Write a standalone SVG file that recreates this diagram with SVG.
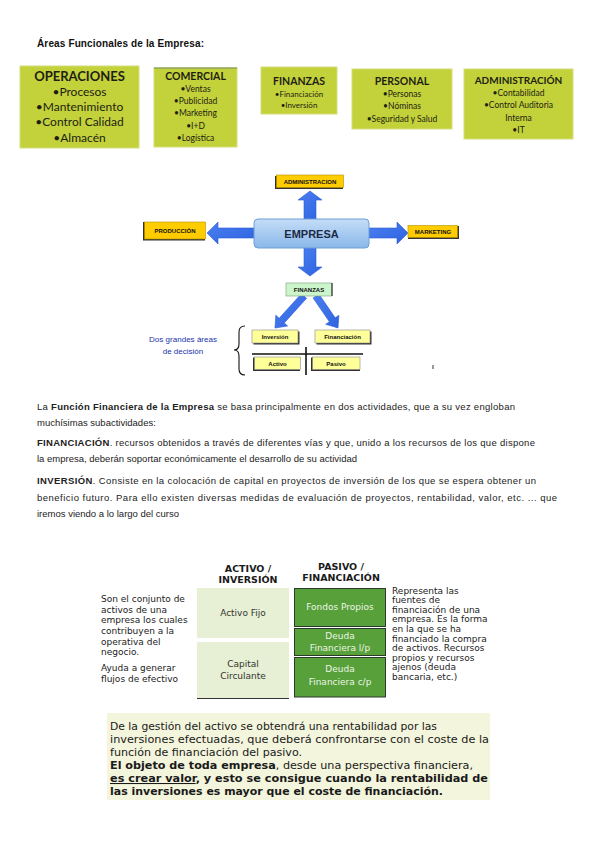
<svg xmlns="http://www.w3.org/2000/svg" width="599" height="848" viewBox="0 0 599 848">
<defs>
<style>
.bg{fill:#ffffff}
.area{fill:#c3d13b;stroke:#d4de7a;stroke-width:1}
.at{font-family:Lato,"Open Sans",sans-serif;font-weight:bold;fill:#1e1e14;text-anchor:middle}
.ai{font-family:Lato,"Open Sans",sans-serif;fill:#1e1e14;text-anchor:middle}
.p{font-family:"Liberation Sans",Arial,sans-serif;font-size:9.5px;fill:#222}
.b{font-weight:bold}
.lab{font-family:"Liberation Sans",Arial,sans-serif;font-weight:bold;font-size:6px;fill:#111;text-anchor:middle}
.ylab{fill:#ffcc00;stroke:#b38f00;stroke-width:0.6}
.yl2{fill:#ffff99;stroke:#888;stroke-width:0.6}
.shadow{fill:#333}
.arrow{fill:url(#ag);stroke:#2a5ad8;stroke-width:0.6}
.v{font-family:"DejaVu Sans",Verdana,sans-serif;font-size:9px;fill:#222}
.vh{font-family:"DejaVu Sans",Verdana,sans-serif;font-size:9.5px;font-weight:bold;fill:#1a1a1a;text-anchor:middle}
.cl{fill:#e7f0d4}
.cd{fill:#57a03a;stroke:#2c3a2c;stroke-width:1}
.wt{font-family:"DejaVu Sans",Verdana,sans-serif;font-size:9px;fill:#eef5e6;text-anchor:middle}
.dt{font-family:"DejaVu Sans",Verdana,sans-serif;font-size:9px;fill:#333;text-anchor:middle}
.bx{font-family:"DejaVu Sans",Verdana,sans-serif;font-size:10.5px;fill:#1a1a1a}
</style>
<linearGradient id="eg" x1="0" y1="0" x2="0" y2="1">
<stop offset="0" stop-color="#c4ddf7"/>
<stop offset="1" stop-color="#8ab8ea"/>
</linearGradient>
<linearGradient id="ag" x1="0" y1="0" x2="1" y2="1">
<stop offset="0" stop-color="#4b7ff0"/>
<stop offset="1" stop-color="#2f63e0"/>
</linearGradient>
</defs>
<rect class="bg" x="0" y="0" width="599" height="848"/>

<text x="37" y="47" font-family="Liberation Sans,Arial,sans-serif" font-size="10px" font-weight="bold" fill="#111" textLength="167" lengthAdjust="spacing">Áreas Funcionales de la Empresa:</text>

<g id="operaciones">
<rect class="area" x="20" y="66" width="119" height="82"/>
<text class="at" x="79.5" y="81" font-size="13px">OPERACIONES</text>
<text class="ai" x="79.5" y="96" font-size="12px">•Procesos</text>
<text class="ai" x="79.5" y="111" font-size="12px">•Mantenimiento</text>
<text class="ai" x="79.5" y="126" font-size="12px">•Control Calidad</text>
<text class="ai" x="79.5" y="142" font-size="12px">•Almacén</text>
</g>
<g id="comercial">
<rect class="area" x="154" y="68" width="83" height="79"/>
<line x1="154" y1="68" x2="237" y2="68" stroke="#6a8a4a" stroke-width="1"/>
<text class="at" x="195.5" y="80" font-size="10.5px">COMERCIAL</text>
<text class="ai" x="195.5" y="92" font-size="8.5px">•Ventas</text>
<text class="ai" x="195.5" y="104" font-size="8.5px">•Publicidad</text>
<text class="ai" x="195.5" y="116" font-size="8.5px">•Marketing</text>
<text class="ai" x="195.5" y="129" font-size="8.5px">•I+D</text>
<text class="ai" x="195.5" y="141" font-size="8.5px">•Logística</text>
</g>
<g id="finanzas-area">
<rect class="area" x="261" y="67" width="76" height="47"/>
<text class="at" x="299" y="85" font-size="10.5px">FINANZAS</text>
<text class="ai" x="299" y="97" font-size="8px">•Financiación</text>
<text class="ai" x="299" y="108" font-size="8px">•Inversión</text>
</g>
<g id="personal">
<rect class="area" x="352" y="69" width="100" height="60"/>
<text class="at" x="402" y="85" font-size="10.5px">PERSONAL</text>
<text class="ai" x="402" y="97" font-size="8.5px">•Personas</text>
<text class="ai" x="402" y="109" font-size="8.5px">•Nóminas</text>
<text class="ai" x="402" y="122" font-size="8.5px">•Seguridad y Salud</text>
</g>
<g id="administracion-area">
<rect class="area" x="464" y="69" width="109" height="70"/>
<text class="at" x="518.5" y="84" font-size="10px">ADMINISTRACIÓN</text>
<text class="ai" x="518.5" y="96" font-size="8.5px">•Contabilidad</text>
<text class="ai" x="518.5" y="108" font-size="8.5px">•Control Auditoria</text>
<text class="ai" x="518.5" y="121" font-size="8.5px">Interna</text>
<text class="ai" x="518.5" y="133" font-size="8.5px">•IT</text>
</g>

<g id="connectors">
<polygon class="arrow" points="304,219 304,200 298,200 310,191 322,200 316,200 316,219"/>
<polygon class="arrow" points="254,228 218,228 218,222 207,233 218,244 218,238 254,238"/>
<polygon class="arrow" points="369,228 397,228 397,222 408,233 397,244 397,238 369,238"/>
<polygon class="arrow" points="304,248 304,267 298,267 310,276 322,267 316,267 316,248"/>
<polygon class="arrow" points="306.6,298.3 284.3,322.9 287.6,326 275,328 275.8,315.2 279.1,318.3 301.4,293.7"/>
<polygon class="arrow" points="318.9,294 335.2,317.8 338.9,315.3 338,328 325.7,324.3 329.4,321.8 313.1,298"/>
<line x1="252" y1="354" x2="363" y2="354" stroke="#111" stroke-width="1.4"/>
<line x1="306" y1="347" x2="306" y2="375" stroke="#111" stroke-width="1.6"/>
<path d="M245,326 Q239,326 239,332 L239,344 Q239,350 234,350 Q239,350 239,356 L239,369 Q239,375 245,375" fill="none" stroke="#111" stroke-width="1.1"/>
</g>

<g id="empresa">
<rect x="254" y="219" width="115" height="29" rx="4" fill="url(#eg)" stroke="#6f9fd6" stroke-width="1"/>
<text x="311.5" y="238" font-family="Liberation Sans,Arial,sans-serif" font-size="11px" font-weight="bold" fill="#1c2a44" text-anchor="middle">EMPRESA</text>
</g>
<g id="administracion">
<rect class="shadow" x="275" y="176" width="68" height="13"/>
<rect class="ylab" x="276.5" y="175" width="67" height="12.5"/>
<text class="lab" x="310" y="183.5">ADMINISTRACION</text>
</g>
<g id="produccion">
<rect class="shadow" x="143" y="222" width="62" height="18.5"/>
<rect class="ylab" x="144.5" y="222" width="61" height="17"/>
<text class="lab" x="175" y="233">PRODUCCIÓN</text>
</g>
<g id="marketing">
<rect class="shadow" x="408" y="226" width="51" height="13"/>
<rect class="ylab" x="408" y="225.5" width="49.5" height="12"/>
<text class="lab" x="433" y="233.5">MARKETING</text>
</g>
<g id="finanzas">
<rect x="286" y="283" width="46" height="13" fill="#ccf5cc" stroke="#7a9a7a" stroke-width="0.6"/>
<line x1="332" y1="283" x2="332" y2="296" stroke="#333" stroke-width="1.2"/>
<text class="lab" x="309" y="292">FINANZAS</text>
</g>
<g id="inversion">
<rect class="shadow" x="253.5" y="331.5" width="46" height="13"/>
<rect class="yl2" x="252" y="330" width="46" height="13"/>
<text class="lab" x="275" y="339" font-weight="normal" font-family="Liberation Serif,serif" font-size="6.5px">Inversión</text>
</g>
<g id="financiacion">
<rect class="shadow" x="316.5" y="331.5" width="55" height="13"/>
<rect class="yl2" x="315" y="330" width="55" height="13"/>
<text class="lab" x="342.5" y="339" font-weight="normal" font-family="Liberation Serif,serif" font-size="6.5px">Financiación</text>
</g>
<g id="activo">
<rect class="shadow" x="253" y="357.5" width="47" height="13.5"/>
<rect class="yl2" x="254.5" y="357" width="46" height="12.5"/>
<text class="lab" x="277.5" y="366" font-family="Liberation Serif,serif" font-size="6.5px">Activo</text>
</g>
<g id="pasivo">
<rect class="shadow" x="311" y="357.5" width="49" height="13.5"/>
<rect class="yl2" x="312.5" y="357" width="47.5" height="12.5"/>
<text class="lab" x="336" y="366" font-family="Liberation Serif,serif" font-size="6.5px">Pasivo</text>
</g>
<g id="dos-grandes">
<text x="183" y="342" font-family="Liberation Sans,Arial,sans-serif" font-size="8px" fill="#2233aa" text-anchor="middle" textLength="68" lengthAdjust="spacing">Dos grandes áreas</text>
<text x="183" y="354" font-family="Liberation Sans,Arial,sans-serif" font-size="8px" fill="#2233aa" text-anchor="middle">de decisión</text>
</g>
<rect x="432.5" y="365" width="1" height="4" fill="#333"/>

<g id="parrafos">
<text class="p" x="37" y="410" textLength="478" lengthAdjust="spacing">La <tspan class="b">Función Financiera de la Empresa</tspan> se basa principalmente en dos actividades, que a su vez engloban</text>
<text class="p" x="37" y="426">muchísimas subactividades:</text>
<text class="p" x="37" y="446" textLength="498" lengthAdjust="spacing"><tspan class="b">FINANCIACIÓN</tspan>. recursos obtenidos a través de diferentes vías y que, unido a los recursos de los que dispone</text>
<text class="p" x="37" y="462">la empresa, deberán soportar económicamente el desarrollo de su actividad</text>
<text class="p" x="37" y="484" textLength="499" lengthAdjust="spacing"><tspan class="b">INVERSIÓN</tspan>. Consiste en la colocación de capital en proyectos de inversión de los que se espera obtener un</text>
<text class="p" x="37" y="501" textLength="520" lengthAdjust="spacing">beneficio futuro. Para ello existen diversas medidas de evaluación de proyectos, rentabilidad, valor, etc. ... que</text>
<text class="p" x="37" y="517">iremos viendo a lo largo del curso</text>
</g>

<g id="balance">
<text class="vh" x="248" y="572">ACTIVO /</text>
<text class="vh" x="248" y="583">INVERSIÓN</text>
<text class="vh" x="341" y="570">PASIVO /</text>
<text class="vh" x="341" y="581">FINANCIACIÓN</text>
<rect class="cl" x="197" y="588" width="92" height="50"/>
<rect class="cl" x="197" y="642" width="92" height="56"/>
<line x1="197" y1="698.5" x2="289" y2="698.5" stroke="#333" stroke-width="1"/>
<text class="dt" x="243" y="616">Activo Fijo</text>
<text class="dt" x="243" y="667">Capital</text>
<text class="dt" x="243" y="679">Circulante</text>
<rect class="cd" x="294.5" y="588.5" width="91" height="38"/>
<rect class="cd" x="294.5" y="628.5" width="91" height="27"/>
<rect class="cd" x="294.5" y="657.5" width="91" height="39.5"/>
<text class="wt" x="340" y="610">Fondos Propios</text>
<text class="wt" x="340" y="639">Deuda</text>
<text class="wt" x="340" y="651">Financiera l/p</text>
<text class="wt" x="340" y="672">Deuda</text>
<text class="wt" x="340" y="685">Financiera c/p</text>
<text class="v" x="101" y="602">Son el conjunto de</text>
<text class="v" x="101" y="612.5">activos de una</text>
<text class="v" x="101" y="623">empresa los cuales</text>
<text class="v" x="101" y="633.5">contribuyen a la</text>
<text class="v" x="101" y="644.5">operativa del</text>
<text class="v" x="101" y="655">negocio.</text>
<text class="v" x="101" y="671">Ayuda a generar</text>
<text class="v" x="101" y="681.5">flujos de efectivo</text>
<text class="v" x="392" y="593.5">Representa las</text>
<text class="v" x="392" y="603">fuentes de</text>
<text class="v" x="392" y="612.5">financiación de una</text>
<text class="v" x="392" y="622">empresa. Es la forma</text>
<text class="v" x="392" y="632">en la que se ha</text>
<text class="v" x="392" y="641.5">financiado la compra</text>
<text class="v" x="392" y="651">de activos. Recursos</text>
<text class="v" x="392" y="660.5">propios y recursos</text>
<text class="v" x="392" y="670">ajenos (deuda</text>
<text class="v" x="392" y="679.5">bancaria, etc.)</text>
</g>

<g id="conclusion">
<rect x="107" y="713" width="383" height="87" fill="#f3f5dc"/>
<text class="bx" x="110" y="730" textLength="327" lengthAdjust="spacingAndGlyphs">De la gestión del activo se obtendrá una rentabilidad por las</text>
<text class="bx" x="110" y="743" textLength="379" lengthAdjust="spacingAndGlyphs">inversiones efectuadas, que deberá confrontarse con el coste de la</text>
<text class="bx" x="110" y="756" textLength="192" lengthAdjust="spacingAndGlyphs">función de financiación del pasivo.</text>
<text class="bx" x="110" y="769" textLength="363" lengthAdjust="spacingAndGlyphs"><tspan font-weight="bold">El objeto de toda empresa</tspan>, desde una perspectiva financiera,</text>
<text class="bx" x="110" y="782" font-weight="bold" textLength="378" lengthAdjust="spacingAndGlyphs"><tspan text-decoration="underline">es crear valor</tspan>, y esto se consigue cuando la rentabilidad de</text>
<text class="bx" x="110" y="795" font-weight="bold" textLength="333" lengthAdjust="spacingAndGlyphs">las inversiones es mayor que el coste de financiación.</text>
</g>
</svg>
